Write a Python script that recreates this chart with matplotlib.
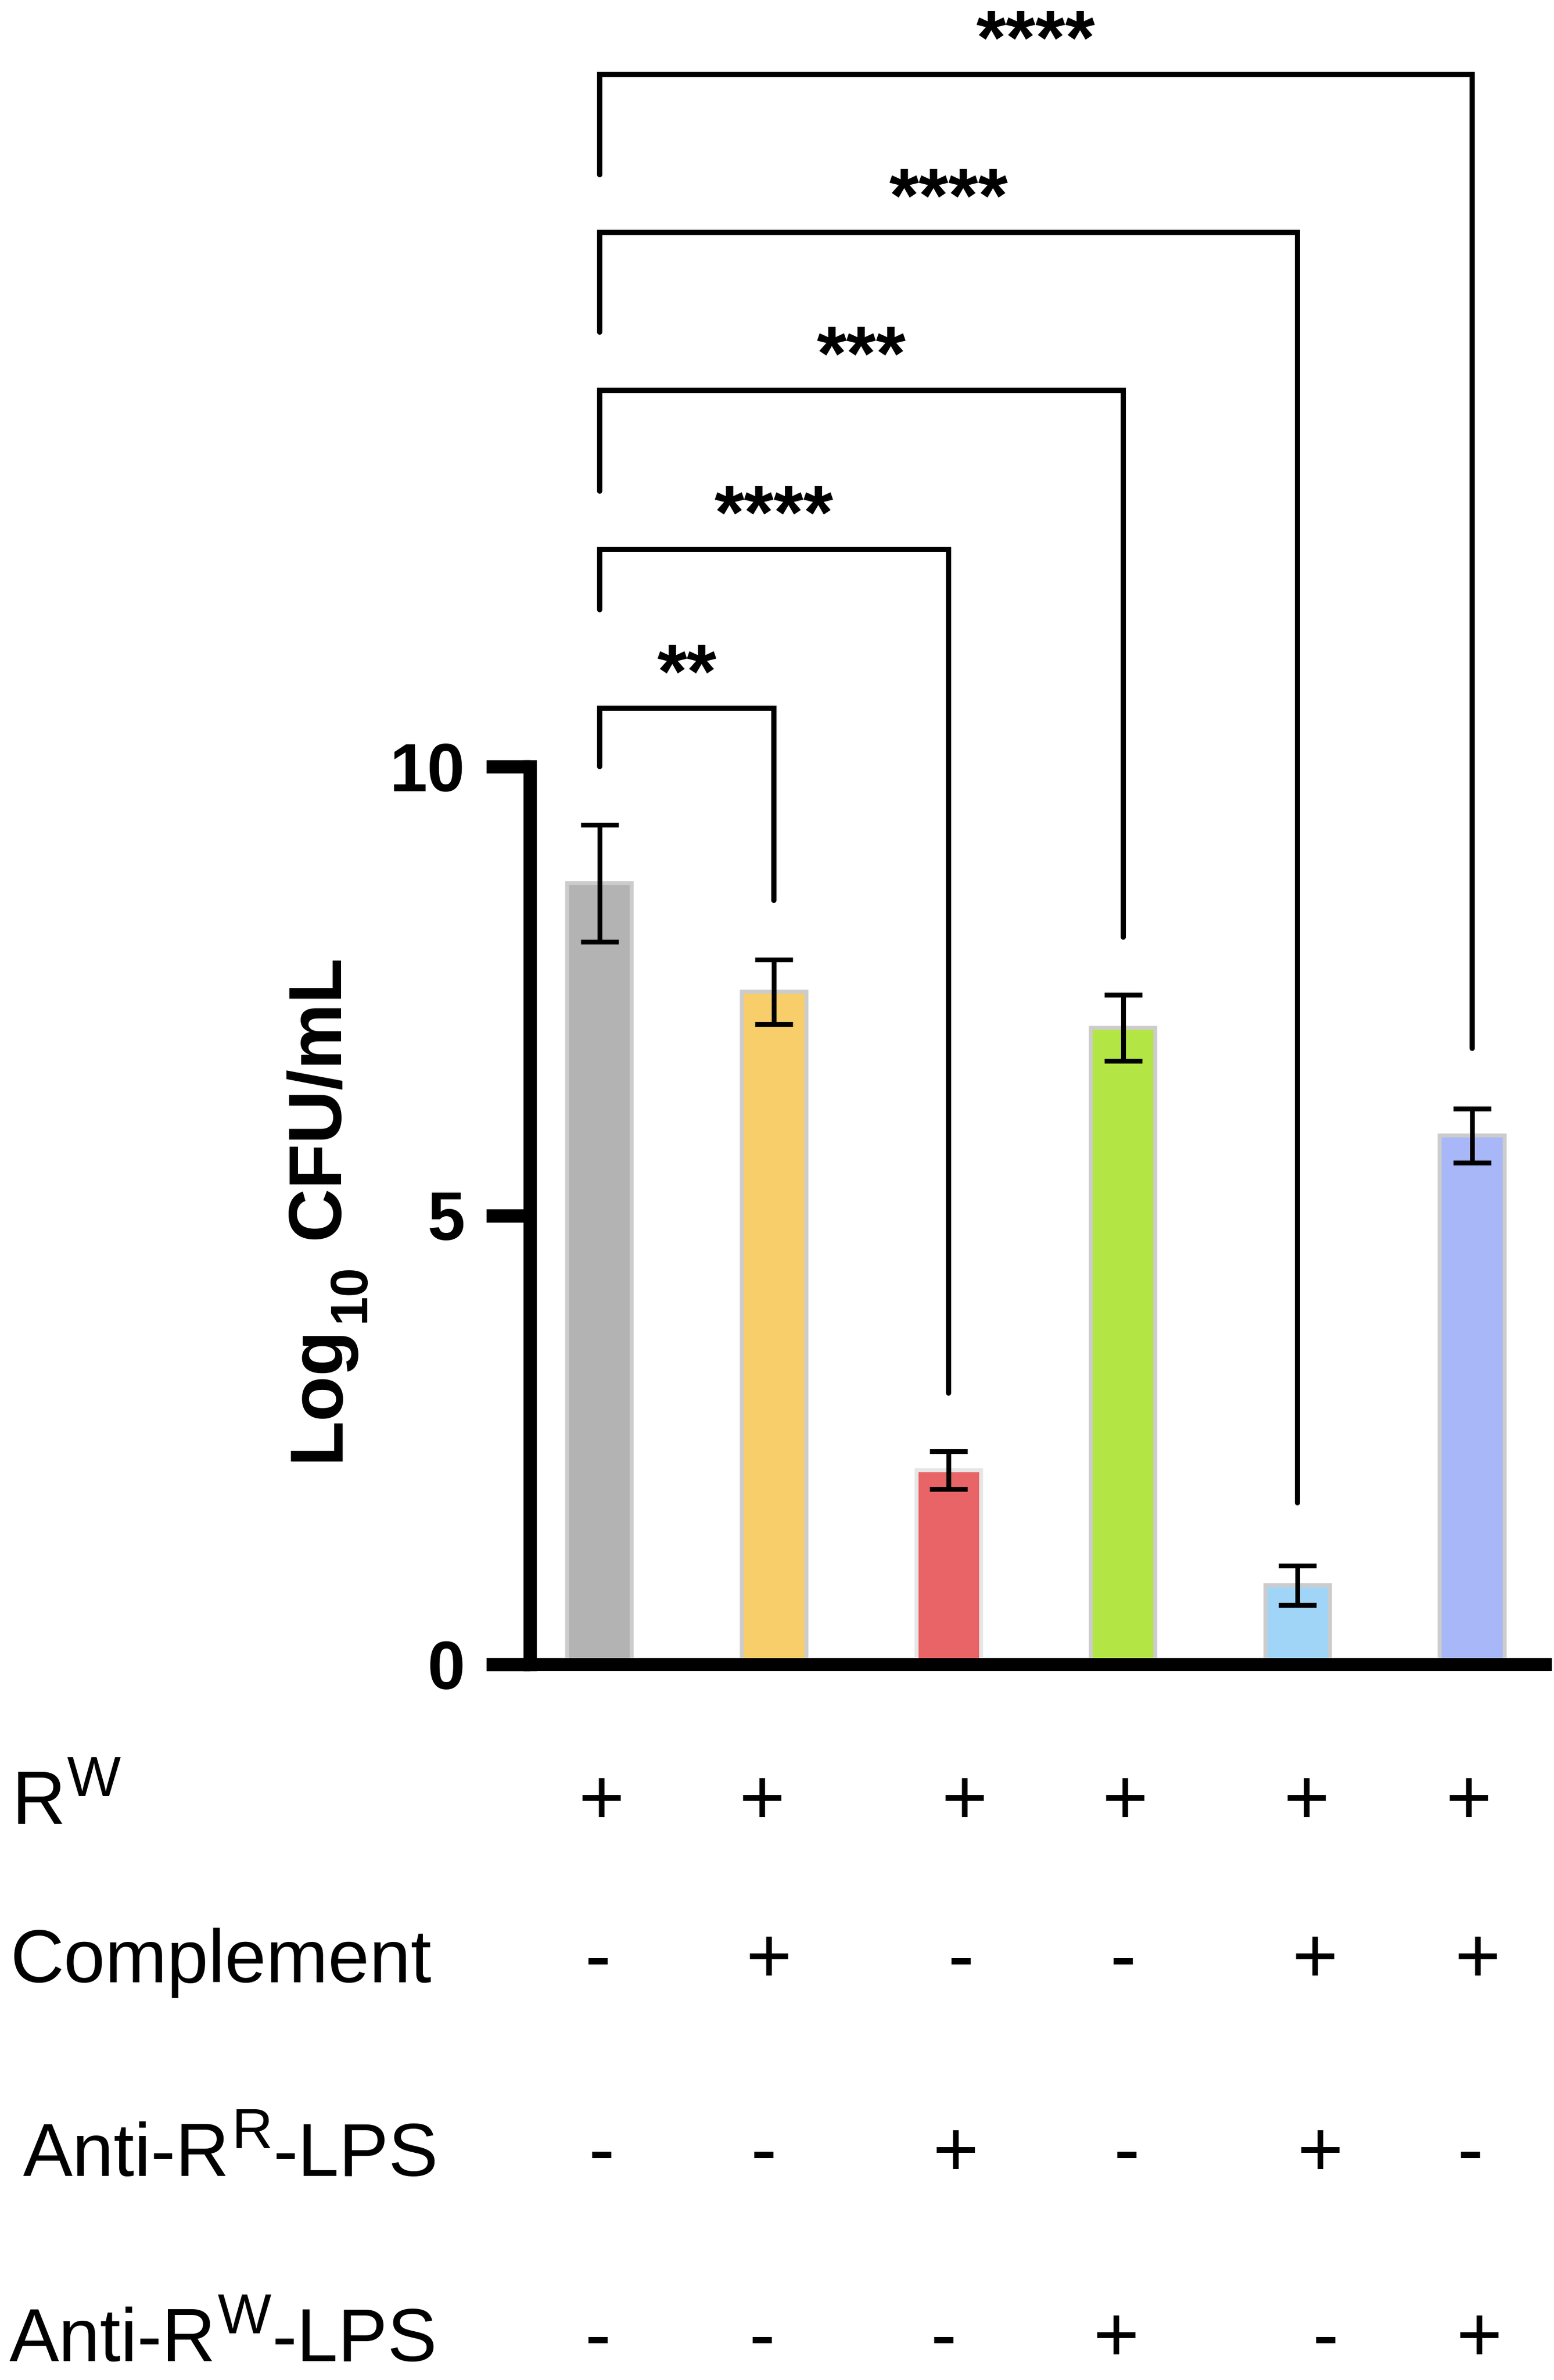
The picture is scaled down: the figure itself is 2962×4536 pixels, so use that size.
import numpy as np
import matplotlib
matplotlib.use('Agg')
import matplotlib.pyplot as plt
from matplotlib.transforms import blended_transform_factory

plt.rcParams['font.family'] = ['Liberation Sans', 'DejaVu Sans']

# bar data (log10 CFU/mL, mean and error)
means = [8.70, 7.49, 2.16, 7.09, 0.88, 5.89]
errors = [0.65, 0.36, 0.21, 0.37, 0.22, 0.30]
colors = ['#b3b3b3', '#f7ce6a', '#e96466', '#b3e645', '#a1d5f7', '#a8b7f7']
edges = ['#cccccc', '#cccccc', '#e6e6e6', '#cccccc', '#cccccc', '#cccccc']

# significance brackets: (group a, group b), label, heights
pairs = [(0, 1), (0, 2), (0, 3), (0, 4), (0, 5)]
stars = ['**', '****', '***', '****', '****']
bracket_top = [10.65, 12.42, 14.19, 15.95, 17.71]
bracket_left = [10.0, 11.75, 13.07, 14.84, 16.59]
bracket_right = [8.51, 3.02, 8.10, 1.80, 6.86]

# treatment table under the bars: (main text, superscript, rest)
row_labels = [('R', 'W', ''), ('Complement', '', ''),
              ('Anti-R', 'R', '-LPS'), ('Anti-R', 'W', '-LPS')]
signs = [['+', '+', '+', '+', '+', '+'],
         ['-', '+', '-', '-', '+', '+'],
         ['-', '-', '+', '-', '+', '-'],
         ['-', '-', '-', '+', '-', '+']]

# layout (pixels of the 2962x4536 canvas)
W, H = 2962, 4536
row_base = [3476, 3778, 4147, 4500]
label_x = [22, 20, 44, 18]
sign_x = [[0.01, 0.93, 2.09, 3.01, 4.05, 4.98],
          [-0.01, 0.97, 2.07, 3.00, 4.10, 5.03],
          [0.01, 0.94, 2.04, 3.02, 4.13, 4.99],
          [-0.01, 0.93, 1.97, 2.96, 4.16, 5.04]]

fig = plt.figure(figsize=(W / 300, H / 300), dpi=300)
renderer = fig.canvas.get_renderer()
ax = fig.add_axes([1009.5 / W, 1 - 3172 / H, (2945 - 1009.5) / W, 3172 / H])

x = np.arange(len(means))
ax.bar(x, means, width=0.37, color=colors, edgecolor=edges, linewidth=1.8, zorder=2)
ax.errorbar(x, means, yerr=errors, fmt='none', ecolor='black', elinewidth=2.2,
            capsize=8.6, capthick=2.2, zorder=3)

for (a, b), s, top, yl, yr in zip(pairs, stars, bracket_top, bracket_left, bracket_right):
    ax.plot([a, a, b, b], [yl, top, top, yr], color='black', lw=2.4,
            solid_joinstyle='miter', solid_capstyle='round', clip_on=False, zorder=4)
    ax.text((a + b) / 2, top + 0.12, s, ha='center', va='baseline',
            fontsize=35, fontweight='bold', clip_on=False)

ax.set_xlim(-0.401, 5.418)
ax.set_ylim(0, 3172 / 171.1)
for side in ['top', 'right']:
    ax.spines[side].set_visible(False)
ax.spines['left'].set_bounds(0, 10)
ax.spines['left'].set_linewidth(6.1)
ax.spines['bottom'].set_linewidth(6.0)
ax.set_xticks([])
ax.set_yticks([0, 5, 10])
ax.tick_params(axis='y', length=20, width=6.1, pad=9.5, labelsize=31)
for lab in ax.get_yticklabels():
    lab.set_fontweight('bold')

# y label "Log10 CFU/mL", built piece by piece so the subscript can be sized
yb_x = 645
ypos = H - 2785
for txt, size, drop, gap in [('Log', 34, 0, 0), ('10', 24, 50, 6), ('CFU/mL', 34, 0, 46)]:
    t = fig.text((yb_x + drop) / W, (ypos + gap) / H, txt, rotation=90,
                 rotation_mode='anchor', ha='left', va='baseline',
                 fontsize=size, fontweight='bold')
    ypos = t.get_window_extent(renderer).y1

# row labels with superscripts
trans = blended_transform_factory(ax.transData, fig.transFigure)
for i, ((main, sup, rest), row) in enumerate(zip(row_labels, signs)):
    base = row_base[i]
    xpos = label_x[i]
    for txt, size, rise, gap in [(main, 34, 0, 0), (sup, 26, 53, 3), (rest, 34, 0, 2)]:
        if not txt:
            continue
        t = fig.text((xpos + gap) / W, 1 - (base - rise) / H, txt, ha='left',
                     va='baseline', fontsize=size)
        xpos = t.get_window_extent(renderer).x1
    for j, s in enumerate(row):
        ax.text(sign_x[i][j], 1 - base / H, s, transform=trans, ha='center',
                va='baseline', fontsize=36, clip_on=False)

fig.savefig('out.png', dpi=300)
